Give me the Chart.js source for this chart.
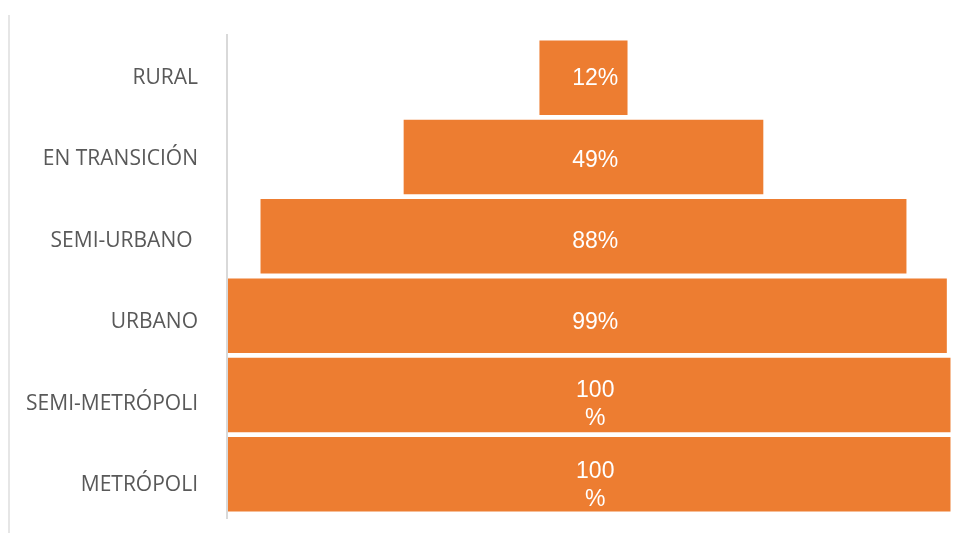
<!DOCTYPE html>
<html>
<head>
<meta charset="utf-8">
<script src="https://cdn.jsdelivr.net/npm/chart.js@4/dist/chart.umd.min.js"></script>
<style>
  html, body { margin: 0; padding: 0; background: #fff; }
  #wrap { position: relative; width: 956px; height: 533px; }
  #frame { position: absolute; left: 8px; top: 15px; bottom: 0; border-left: 2px solid #e6e6e6; }
  canvas { display: block; }
</style>
</head>
<body>
<div id="wrap">
  <div id="frame"></div>
  <canvas id="funnelChart" width="956" height="533"></canvas>
</div>
<script>
// funnel categories, top to bottom
const categories = ['RURAL', 'EN TRANSICIÓN', 'SEMI-URBANO ', 'URBANO', 'SEMI-METRÓPOLI', 'METRÓPOLI'];
const shares = [12, 49, 88, 99, 100, 100];
const valueLabels = [['12%'], ['49%'], ['88%'], ['99%'], ['100', '%'], ['100', '%']];

const barColor = '#ED7D31';
const labelShift = 1.6; // labels sit a bit right of bar centre
const labelMin = -0.491, labelMax = 5.357; // label rows run on a slightly wider pitch

// white value labels + the vertical axis line
const funnelLabels = {
    id: 'funnelLabels',
    afterDatasetsDraw(chart) {
        const ctx = chart.ctx;
        const area = chart.chartArea;
        const x = chart.scales.x;
        const yl = chart.scales.yLabels;

        ctx.save();
        ctx.strokeStyle = '#d9d9d9';
        ctx.lineWidth = 2;
        ctx.beginPath();
        ctx.moveTo(area.left - 1, area.top - 4);
        ctx.lineTo(area.left - 1, area.bottom + 5);
        ctx.stroke();

        ctx.fillStyle = '#ffffff';
        ctx.font = '23px "Liberation Sans", Arial, sans-serif';
        ctx.textAlign = 'center';
        ctx.textBaseline = 'middle';
        const lx = x.getPixelForValue(labelShift);
        valueLabels.forEach((lines, i) => {
            const n = lines.length;
            const cy = yl.getPixelForValue(i);
            lines.forEach((t, j) => {
                ctx.fillText(t, lx, cy + (j - (n - 1) / 2) * 28 + 1);
            });
        });
        ctx.restore();
    }
};

const ctx = document.getElementById('funnelChart').getContext('2d');
new Chart(ctx, {
    type: 'bar',
    data: {
        labels: categories,
        datasets: [{
            data: shares.map(v => [-v / 2, v / 2]),
            backgroundColor: barColor,
            borderWidth: 0,
            barPercentage: 0.94,
            categoryPercentage: 1.0
        }]
    },
    options: {
        indexAxis: 'y',
        responsive: false,
        maintainAspectRatio: false,
        animation: false,
        layout: { padding: { top: 38, bottom: 19, left: 0, right: 0 } },
        plugins: {
            legend: { display: false },
            tooltip: { enabled: false }
        },
        scales: {
            x: {
                display: false,
                min: -48.43,
                max: 50.75
            },
            y: {
                display: false
            },
            yLabels: {
                type: 'linear',
                position: 'left',
                reverse: true,
                offset: false,
                bounds: 'data',
                min: labelMin,
                max: labelMax,
                afterBuildTicks(scale) {
                    scale.ticks = categories.map((c, i) => ({ value: i }));
                    scale.min = labelMin;
                    scale.max = labelMax;
                },
                afterFit(scale) {
                    scale.width = 228;
                    scale.paddingTop = 0;
                    scale.paddingBottom = 0;
                },
                grid: { display: false, drawTicks: false },
                border: { display: false },
                ticks: {
                    autoSkip: false,
                    padding: 30,
                    color: '#595959',
                    font: { family: '"Open Sans", sans-serif', size: 21 },
                    callback: v => categories[v]
                }
            }
        }
    },
    plugins: [funnelLabels]
});
</script>
</body>
</html>
